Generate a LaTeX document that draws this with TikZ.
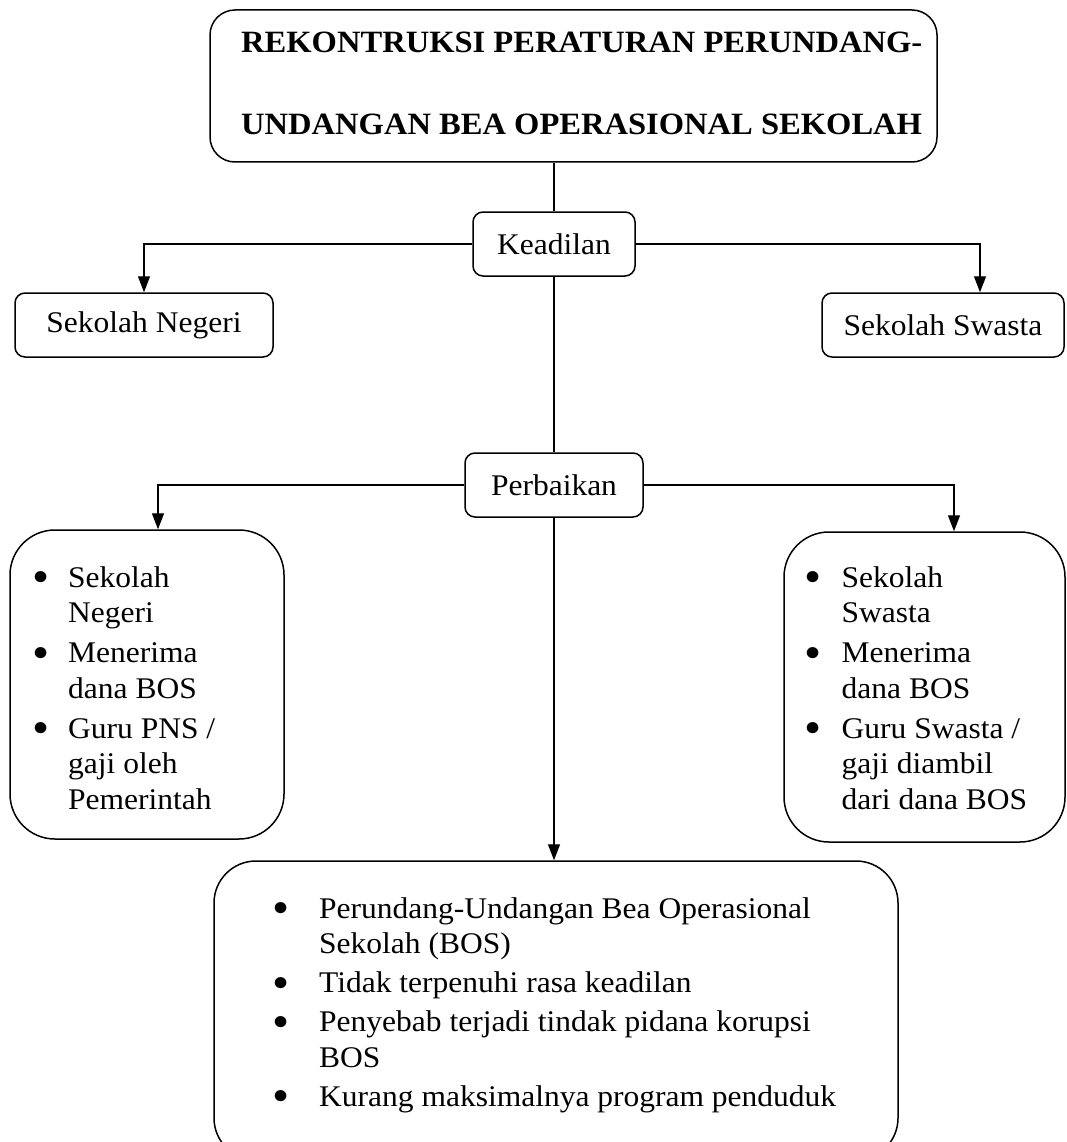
\documentclass[tikz,border=0pt]{standalone}
\usepackage{fontspec}
\setmainfont{Liberation Serif}[FakeStretch=1.05]
\usetikzlibrary{arrows.meta,calc}
\newcommand{\bl}[1]{\makebox[#1pt][l]{\smash{\raisebox{-5.5pt}{\scalebox{1.55}{\textbullet}}}}}
\begin{document}
\begin{tikzpicture}[x=1pt,y=-1pt,
  box/.style={draw, line width=1.5pt, rounded corners=#1, inner sep=0pt, font=\fontsize{30}{35.5}\selectfont},
  box/.default=10pt,
  txt/.style={inner sep=0pt, anchor=base west, font=\fontsize{30}{35.5}\selectfont},
  conn/.style={line width=1.4pt},
  arr/.style={conn, -{Triangle[length=16pt,width=12pt]}}]
\useasboundingbox (0,0) rectangle (1067,1142);
\clip (0,0) rectangle (1067,1142);
% boxes
\node[box=25pt, minimum width=727pt, minimum height=152pt] (top) at (573.5,86) {};
\node[txt, font=\fontsize{31}{82}\selectfont\bfseries] (toptxt) at (241,53)
  {\begin{tabular}[t]{@{}l@{}}REKONTRUKSI PERATURAN PERUNDANG-\\UNDANGAN BEA OPERASIONAL SEKOLAH\end{tabular}};
\node[box, minimum width=162pt, minimum height=64pt] (kead) at (554,244) {Keadilan};
\node[box, minimum width=258pt, minimum height=64pt] (neg) at (144,325) {Sekolah Negeri};
\node[box, minimum width=242pt, minimum height=64pt] (sws) at (943,325) {Sekolah Swasta};
\node[box, minimum width=178pt, minimum height=64pt] (perb) at (554,485) {Perbaikan};
\node[box=45pt, minimum width=274pt, minimum height=309pt] (lbox) at (147,684.5) {};
\node[box=45pt, minimum width=281pt, minimum height=310pt] (rbox) at (924.5,687) {};
\node[box=42pt, minimum width=684pt, minimum height=299pt] (botbox) at (556,1010.5) {};
% texts
\node[txt] (ltxt) at (32,587) {\begin{tabular}[t]{@{}l@{}l@{}}
\bl{36} & Sekolah\\
 & Negeri\\[4.5pt]
\bl{36} & Menerima\\
 & dana BOS\\[4.5pt]
\bl{36} & Guru PNS /\\
 & gaji oleh\\
 & Pemerintah
\end{tabular}};
\node[txt] (rtxt) at (804,587) {\begin{tabular}[t]{@{}l@{}l@{}}
\bl{37.5} & Sekolah\\
 & Swasta\\[4.5pt]
\bl{37.5} & Menerima\\
 & dana BOS\\[4.5pt]
\bl{37.5} & Guru Swasta /\\
 & gaji diambil\\
 & dari dana BOS
\end{tabular}};
\node[txt] (btxt) at (272,918) {\begin{tabular}[t]{@{}l@{}l@{}}
\bl{47} & Perundang-Undangan Bea Operasional\\
 & Sekolah (BOS)\\[3.5pt]
\bl{47} & Tidak terpenuhi rasa keadilan\\[3.5pt]
\bl{47} & Penyebab terjadi tindak pidana korupsi\\
 & BOS\\[3.5pt]
\bl{47} & Kurang maksimalnya program penduduk
\end{tabular}};
% connectors
\draw[conn] (top.south -| kead.north) -- (kead.north);
\draw[arr] (kead.west) -| (neg.north);
\draw[arr] (kead.east) -| ([xshift=37pt]sws.north);
\draw[conn] (kead.south) -- (perb.north);
\draw[arr] (perb.west) -| ([xshift=11pt]lbox.north);
\draw[arr] (perb.east) -| ([xshift=29.5pt]rbox.north);
\draw[arr] (perb.south) -- (botbox.north -| perb.south);
\end{tikzpicture}
\end{document}
